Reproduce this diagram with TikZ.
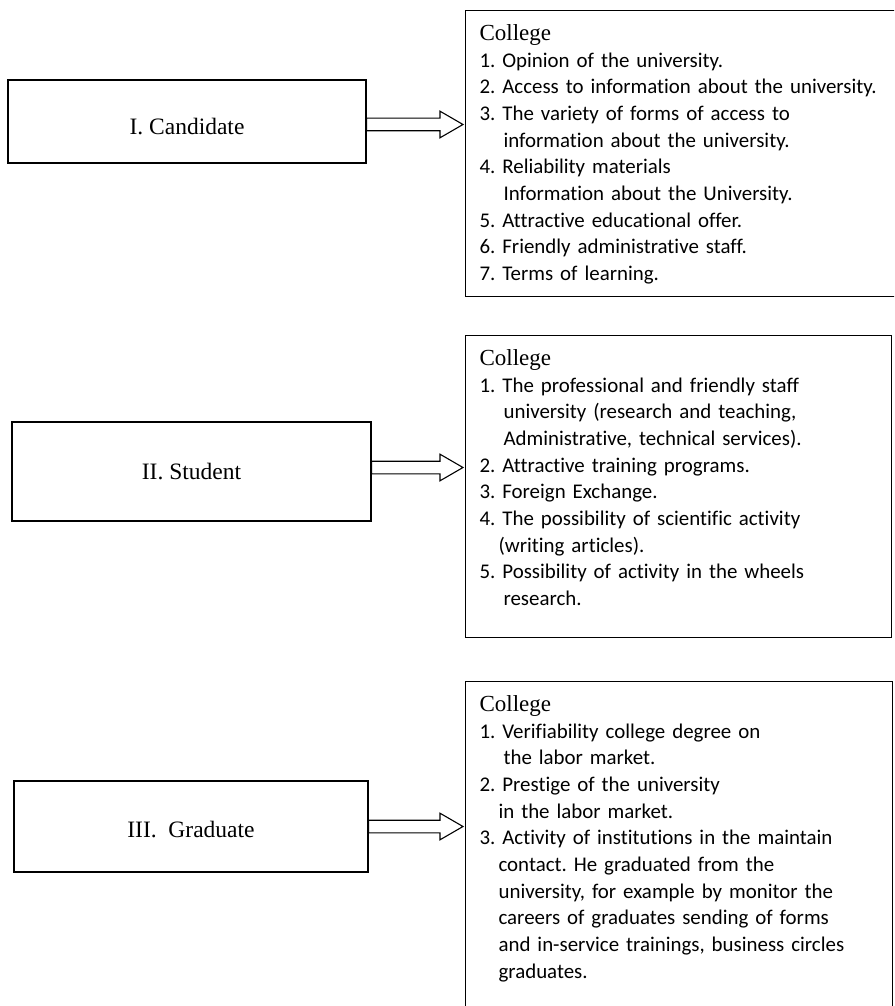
\documentclass[tikz,border=0pt]{standalone}
\usepackage{fontspec}
\setmainfont{Carlito}[Ligatures=NoCommon]
\newfontfamily\lserif{Liberation Serif}
\usetikzlibrary{calc}
\frenchspacing
\hyphenpenalty=10000

\begin{document}
\begin{tikzpicture}[x=1pt,y=-1pt]
\tikzset{stage/.style = {shape=rectangle,draw,line width=1.1pt,inner sep=0pt,font=\lserif\fontsize{23.5}{28}\selectfont}}
\tikzset{factors/.style = {shape=rectangle,draw,line width=1.1pt,anchor=north west,align=left,inner xsep=14pt,inner ysep=8pt,font=\fontsize{20.9}{26.65}\selectfont}}
\tikzset{flow/.style = {draw,line width=1.1pt,line join=miter,to path={let \p1=(\tikztostart), \p2=(\tikztotarget) in
  (\x1,\y1+6.3pt) -- (\x2-25pt,\y1+6.3pt) -- (\x2-25pt,\y1+13.3pt) -- (\x2-2pt,\y1) -- (\x2-25pt,\y1-13.3pt) -- (\x2-25pt,\y1-6.3pt) -- (\x1,\y1-6.3pt) -- cycle}}}
\newcommand{\college}{\rule{0pt}{22pt}{\lserif\fontsize{23}{26.65}\selectfont College}}
\useasboundingbox (0,0) rectangle (894,1006);
\clip (0,0) rectangle (894,1006);

\node[stage,minimum width=358pt,minimum height=83pt,text height=27pt,text depth=0pt] (cand) at (187,121.5) {I. Candidate};
\node[stage,minimum width=359pt,minimum height=99pt,text height=17pt,text depth=2pt] (stud) at (191.5,471.5) {II. Student};
\node[stage,minimum width=354pt,minimum height=91pt,text height=21pt,text depth=0pt] (grad) at (191,826.5) {III.\ \ Graduate};

\node[factors,text width=425pt] (fcand) at (465,10) {\college\\
1. Opinion of the university.\\
2. Access to information about the university.\\
3. The variety of forms of access to\\
\hspace*{24pt}information about the university.\\
4. Reliability materials\\
\hspace*{24pt}Information about the University.\\
5. Attractive educational offer.\\
6. Friendly administrative staff.\\
7. Terms of learning.\strut};

\node[factors,text width=398pt] (fstud) at (465,335) {\college\\
1. The professional and friendly staff\\
\hspace*{24pt}university (research and teaching,\\
\hspace*{24pt}Administrative, technical services).\\
2. Attractive training programs.\\
3. Foreign Exchange.\\
4. The possibility of scientific activity\\
\hspace*{19pt}(writing articles).\\
5. Possibility of activity in the wheels\\
\hspace*{24pt}research.\rule[-24pt]{0pt}{0pt}};

\node[factors,text width=399pt] (fgrad) at (465,681) {\college\\
1. Verifiability college degree on\\
\hspace*{24pt}the labor market.\\
2. Prestige of the university\\
\hspace*{19pt}in the labor market.\\
3. Activity of institutions in the maintain\\
\hspace*{19pt}contact. He graduated from the\\
\hspace*{19pt}university, for example by monitor the\\
\hspace*{19pt}careers of graduates sending of forms\\
\hspace*{19pt}and in-service trainings, business circles\\
\hspace*{19pt}graduates.\rule[-45pt]{0pt}{0pt}};

\draw[flow] ([yshift=-3pt]cand.east) to (fcand.west);
\draw[flow] ([yshift=4pt]stud.east) to (fstud.west);
\draw[flow] (grad.east) to (fgrad.west);
\end{tikzpicture}
\end{document}
